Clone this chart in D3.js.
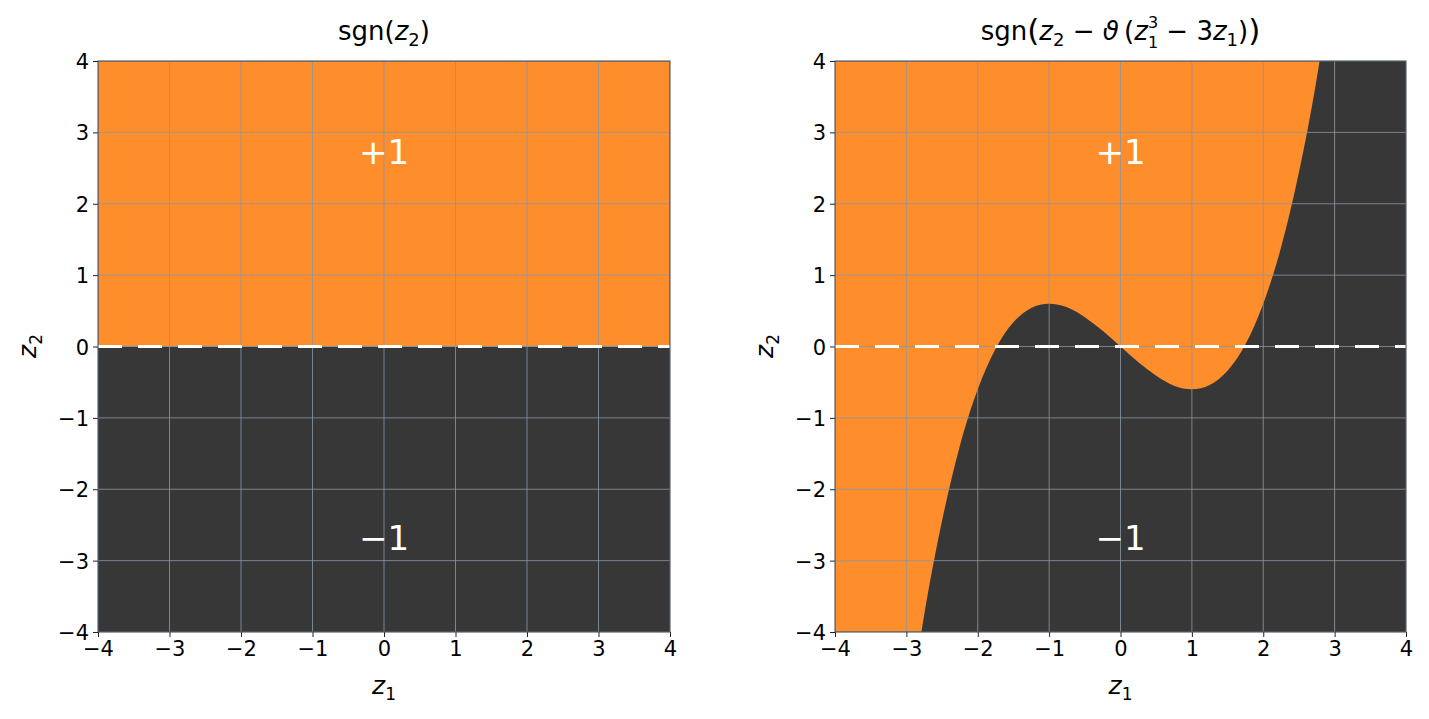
<!DOCTYPE html>
<html><head><meta charset="utf-8">
<script src="https://cdn.jsdelivr.net/npm/d3@7"></script>
<style>
body{margin:0;background:#fff;}
text{font-family:"DejaVu Sans",sans-serif;fill:#000;}
</style></head>
<body><svg id="c" width="1429" height="719"></svg>
<script>
// ---- data ----
const xTicks = [-4,-3,-2,-1,0,1,2,3,4];
const yTicks = [-4,-3,-2,-1,0,1,2,3,4];
const domain = [-4,4];
const regionLabels = ["+1","\u22121"];
const regionLabelY = [2.72,-2.68];
// boundary curve of right panel (z1, z2)
const curveZ1 = [-3,-2.75,-2.5,-2.25,-2,-1.75,-1.5,-1.25,-1,-0.75,-0.5,-0.25,0,0.25,0.5,0.75,1,1.25,1.5,1.75,2,2.25,2.5,2.75,3];
const curveZ2 = [-5.4,-3.76,-2.44,-1.39,-0.6,-0.03,0.34,0.54,0.6,0.55,0.41,0.22,0,-0.22,-0.41,-0.55,-0.6,-0.54,-0.34,0.03,0.6,1.39,2.44,3.76,5.4];

const ORANGE = "#fe8d2c", DARK = "#373737", GRID = "#8797a8";
const TICK = 21, LAB = 25, TITLE = 26, SUB = 18;
const svg = d3.select("#c");
const fmt = v => v < 0 ? "\u2212" + Math.abs(v) : String(v);

function panel(id, x0, x1, titleFn, withCurve){
  const x = d3.scaleLinear().domain(domain).range([x0, x1]);
  const y = d3.scaleLinear().domain(domain).range([632, 61]);
  const g = svg.append("g");
  g.append("clipPath").attr("id","clip"+id).append("rect")
    .attr("x",x0).attr("y",61).attr("width",x1-x0).attr("height",632-61);
  const body = g.append("g").attr("clip-path","url(#clip"+id+")");
  if(!withCurve){
    body.append("rect").attr("x",x0).attr("y",y(4)).attr("width",x1-x0).attr("height",y(0)-y(4)).attr("fill",ORANGE);
    body.append("rect").attr("x",x0).attr("y",y(0)).attr("width",x1-x0).attr("height",y(-4)-y(0)).attr("fill",DARK);
  } else {
    body.append("rect").attr("x",x0).attr("y",61).attr("width",x1-x0).attr("height",632-61).attr("fill",ORANGE);
    const pts = curveZ1.map((v,i)=>[v,curveZ2[i]]);
    const area = d3.area().x(d=>x(d[0])).y0(y(-6)).y1(d=>y(d[1])).curve(d3.curveNatural);
    body.append("path").attr("d",area(pts)).attr("fill",DARK);
    body.append("rect").attr("x",x(3)).attr("y",61).attr("width",x1-x(3)+2).attr("height",632-61).attr("fill",DARK);
  }
  // grid
  body.selectAll(".gx").data(xTicks).join("line").attr("x1",d=>x(d)).attr("x2",d=>x(d))
    .attr("y1",61).attr("y2",632).attr("stroke",GRID).attr("stroke-opacity",0.8).attr("stroke-width",1);
  body.selectAll(".gy").data(yTicks).join("line").attr("y1",d=>y(d)).attr("y2",d=>y(d))
    .attr("x1",x0).attr("x2",x1).attr("stroke",GRID).attr("stroke-opacity",0.8).attr("stroke-width",1);
  // dashed zero line
  body.append("line").attr("x1",x0).attr("x2",x1).attr("y1",y(0)).attr("y2",y(0))
    .attr("stroke","#fff").attr("stroke-width",3.2).attr("stroke-dasharray","24,16");
  // region labels
  regionLabels.forEach((t,i)=>{
    g.append("text").attr("x",x(0)).attr("y",y(regionLabelY[i])).attr("text-anchor","middle")
      .attr("dominant-baseline","central").style("font-size","34px").style("fill","#fff").text(t);
  });
  // axes
  const ax = g.append("g").attr("transform","translate(0,632)")
    .call(d3.axisBottom(x).tickValues(xTicks).tickFormat(fmt).tickSize(5).tickSizeOuter(0));
  const ay = g.append("g").attr("transform",`translate(${x0},0)`)
    .call(d3.axisLeft(y).tickValues(yTicks).tickFormat(fmt).tickSize(5).tickSizeOuter(0));
  [ax,ay].forEach(a=>{
    a.select(".domain").remove();
    a.selectAll("line").attr("stroke","#222").attr("stroke-width",1);
    a.selectAll("text").style("font-family","DejaVu Sans").style("font-size",TICK+"px").attr("fill","#000");
  });
  ax.selectAll("text").attr("dy","0.71em").attr("y",9);
  ay.selectAll("text").attr("x",-9).attr("dy","0.36em");
  // spines
  g.append("rect").attr("x",x0).attr("y",61).attr("width",x1-x0).attr("height",632-61)
    .attr("fill","none").attr("stroke","#3a4452").attr("stroke-width",1);
  // x label
  const xl = g.append("text").attr("x",x(0)).attr("y",694).attr("text-anchor","middle").style("font-size",LAB+"px");
  xl.append("tspan").style("font-style","italic").text("z");
  xl.append("tspan").attr("dy",6).style("font-size","17px").text("1");
  // y label
  const yl = g.append("text").attr("transform",`translate(${x0-62},346) rotate(-90)`).attr("text-anchor","middle").style("font-size",LAB+"px");
  yl.append("tspan").style("font-style","italic").text("z");
  yl.append("tspan").attr("dy",6).style("font-size","17px").text("2");
  // title
  titleFn(g.append("text").attr("x",x(0)).attr("y",40).attr("text-anchor","middle").style("font-size",TITLE+"px"));
}

panel("L", 98, 670, t=>{
  t.append("tspan").text("sgn(");
  t.append("tspan").style("font-style","italic").text("z");
  t.append("tspan").attr("dy",6).style("font-size",SUB+"px").text("2");
  t.append("tspan").attr("dy",-6).text(")");
}, false);

panel("R", 835, 1406, t=>{
  t.append("tspan").text("sgn");
  t.append("tspan").style("font-size","31px").attr("dy",1).text("(");
  t.append("tspan").attr("dy",-1).style("font-style","italic").text("z");
  t.append("tspan").attr("dy",6).style("font-size",SUB+"px").text("2");
  t.append("tspan").attr("dy",-6).text(" \u2212 ");
  t.append("tspan").style("font-style","italic").text("\u03D1");
  t.append("tspan").text("\u2009(");
  t.append("tspan").style("font-style","italic").text("z");
  t.append("tspan").attr("dy",-12).style("font-size","16px").text("3");
  t.append("tspan").attr("dx",-10.2).attr("dy",20).style("font-size","16px").text("1");
  t.append("tspan").attr("dy",-8).text(" \u2212 3");
  t.append("tspan").style("font-style","italic").text("z");
  t.append("tspan").attr("dy",6).style("font-size",SUB+"px").text("1");
  t.append("tspan").attr("dy",-6).text(")");
  t.append("tspan").style("font-size","31px").attr("dy",1).text(")");
}, true);
</script></body></html>
